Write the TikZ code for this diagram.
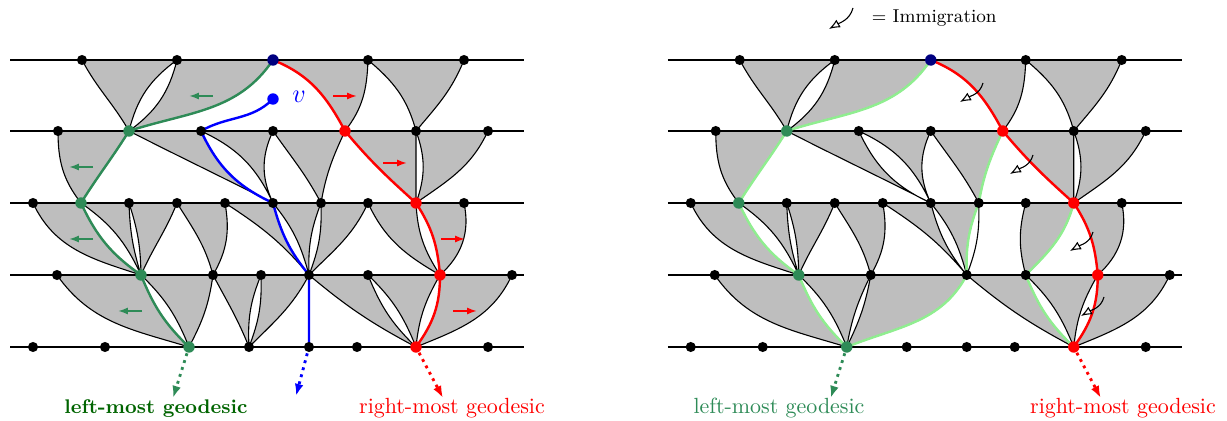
\documentclass[tikz,border=0pt]{standalone}
\usepackage{tikz}
\usetikzlibrary{arrows.meta}
\definecolor{geogreen}{RGB}{46,139,87}
\definecolor{labgreen}{RGB}{0,100,0}
\definecolor{cellgray}{RGB}{190,190,190}
\definecolor{immgreen}{RGB}{144,238,144}
\definecolor{topblue}{RGB}{0,0,128}
\tikzstyle{pt}    = [circle, fill=black, inner sep=0pt, minimum size=4.6pt]
\tikzstyle{gpt}   = [pt, fill=geogreen, minimum size=5.2pt]
\tikzstyle{rpt}   = [pt, fill=red, minimum size=5.2pt]
\tikzstyle{edge}  = [line width=0.5pt]
\tikzstyle{geo}   = [line width=1.1pt]
\tikzstyle{drift} = [line width=0.8pt, -{Latex[length=4.5pt,width=3.2pt]}]
\tikzstyle{tail}  = [line width=1.3pt, dotted, shorten <=3pt, -{Latex[length=5.5pt,width=4pt]}]
\tikzstyle{imm}   = [line width=0.5pt, -{Latex[open,length=5pt,width=4pt]}]

% the five generations
\newcommand{\setpoints}{%
  \foreach \x [count=\i] in {82,177,273,368,464}                 \coordinate (a\i) at (\x,-60);
  \foreach \x [count=\i] in {58,129,201,273,345,416,488}         \coordinate (b\i) at (\x,-131);
  \foreach \x [count=\i] in {33,81,129,177,225,273,321,368,416,464} \coordinate (c\i) at (\x,-203);
  \foreach \x [count=\i] in {57,141,213,261,309,368,440,512}     \coordinate (d\i) at (\x,-275);
  \foreach \x [count=\i] in {33,105,189,249,309,357,416,488}     \coordinate (e\i) at (\x,-347);
  \coordinate (gtip) at (173,-398);
  \coordinate (rtip) at (443,-398);
}
% cells p/q/child/out/in (p side)/out/in (q side)
\newcommand{\sharedtris}{a1/a2/b2/-62/120/-144/76, a2/a3/b2/-104/36/-124/18,
  a3/a4/b5/-22/118/-92/52, a4/a5/b6/-40/105/-112/50,
  b1/b2/c2/-90/128/-122/58, b2/b3/c6/-27/153/-65/155, b3/b4/c6/-25/115/-115/115,
  b4/b5/c7/-55/118/-115/80, b5/b6/c9/-50/138/-90/90, b6/b7/c9/-70/70/-115/35,
  c1/c2/d2/-65/162/-65/145, c2/c3/d2/-35/115/-88/107, c3/c4/d2/-72/91/-112/66,
  c4/c5/d3/-58/105/-80/60, c5/c6/d5/-33/130/-75/129, c6/c7/d5/-51/105/-111/92,
  c9/c10/d7/-57/95/-78/42,
  d1/d2/e3/-55/163/-68/136, d5/d6/e7/-40/152/-68/136, d6/d7/e7/-44/112/-120/84,
  d7/d8/e7/-90/54/-115/22}
\newcommand{\lefttris}{c7/c8/d5/-88/69/-115/45, c8/c9/d7/-65/150/-87/123,
  d2/d3/e3/-44/112/-98/62, d3/d4/e4/-62/112/-112/93, d4/d5/e4/-88/69/-118/45}
\newcommand{\righttris}{c8/c9/d6/-105/105/-105/45,
  d2/d3/e3/-44/112/-116/80, d3/d5/e3/-100/64/-118/22}

\begin{document}
\begin{tikzpicture}[x=0.016cm, y=0.016cm]
\useasboundingbox (0,0) rectangle (1227,-421);

%%% left picture: geodesics
\setpoints
\coordinate (vv) at (273,-99);
\foreach \p/\q/\c/\oa/\ia/\ob/\ib in \sharedtris {
  \fill[cellgray] (\p) -- (\q) to[out=\ob,in=\ib] (\c) to[out=\ia,in=\oa] (\p) -- cycle;
  \draw[edge] (\p) to[out=\oa,in=\ia] (\c) (\q) to[out=\ob,in=\ib] (\c);
}
\foreach \p/\q/\c/\oa/\ia/\ob/\ib in \lefttris {
  \fill[cellgray] (\p) -- (\q) to[out=\ob,in=\ib] (\c) to[out=\ia,in=\oa] (\p) -- cycle;
  \draw[edge] (\p) to[out=\oa,in=\ia] (\c) (\q) to[out=\ob,in=\ib] (\c);
}
\foreach \y in {60,131,203,275,347} \draw[edge] (10,-\y) -- (524,-\y);

\draw[geo, geogreen] (a3) to[out=-124,in=18] (b2) to[out=-122,in=58] (c2)
  to[out=-65,in=145] (d2) to[out=-68,in=136] (e3);
\draw[geo, red] (a3) to[out=-22,in=118] (b5) to[out=-50,in=138] (c9)
  to[out=-57,in=95] (d7) to[out=-90,in=54] (e7);
\draw[geo, blue] (vv) to[out=-135,in=30] (b3) to[out=-65,in=155] (c6)
  to[out=-75,in=129] (d5) -- (e5);
\draw[tail, geogreen] (e3) -- (gtip);
\draw[tail, red] (e7) -- (rtip);
\coordinate (btip) at (296,-396);
\draw[tail, blue] (e5) -- (btip);

% drift of the cells
\foreach \x/\y in {213/96, 93/167, 93/239, 142/311} \draw[drift, geogreen] (\x,-\y) -- ++(-24,0);
\foreach \x/\y in {333/96, 383/163, 441/239, 453/311} \draw[drift, red] (\x,-\y) -- ++(24,0);

\foreach \p in {a1,a2,a4,a5,b1,b3,b4,b6,b7,c1,c3,c4,c5,c6,c7,c8,c10,
                d1,d3,d4,d5,d6,d8,e1,e2,e4,e5,e6,e8} \node[pt] (p\p) at (\p) {};
\foreach \p in {b2,c2,d2,e3} \node[gpt] (p\p) at (\p) {};
\foreach \p in {b5,c9,d7,e7} \node[rpt] (p\p) at (\p) {};
\node[pt, fill=topblue, minimum size=5.2pt] (pa3) at (a3) {};
\node[pt, fill=blue, minimum size=5.2pt] (pv) at (vv) {};
\node[text=blue, font=\large] (vlab) at (299,-97) {$v$};

\node[anchor=base, text=labgreen, font=\small\bfseries] (lmg) at (156,-414) {left-most geodesic};
\node[anchor=base, text=red] (rmg) at (452,-414) {right-most geodesic};

%%% right picture: immigration
\begin{scope}[xshift=10.528cm, name prefix=r-]
\setpoints
\foreach \p/\q/\c/\oa/\ia/\ob/\ib in \sharedtris {
  \fill[cellgray] (\p) -- (\q) to[out=\ob,in=\ib] (\c) to[out=\ia,in=\oa] (\p) -- cycle;
  \draw[edge] (\p) to[out=\oa,in=\ia] (\c) (\q) to[out=\ob,in=\ib] (\c);
}
\foreach \p/\q/\c/\oa/\ia/\ob/\ib in \righttris {
  \fill[cellgray] (\p) -- (\q) to[out=\ob,in=\ib] (\c) to[out=\ia,in=\oa] (\p) -- cycle;
  \draw[edge] (\p) to[out=\oa,in=\ia] (\c) (\q) to[out=\ob,in=\ib] (\c);
}
\draw[edge] (c7) to[out=-88,in=69] (d5);
\foreach \y in {60,131,203,275,347} \draw[edge] (10,-\y) -- (524,-\y);

\draw[geo, immgreen] (a3) to[out=-124,in=18] (b2) to[out=-122,in=58] (c2)
  to[out=-65,in=145] (d2) to[out=-68,in=136] (e3);
\draw[geo, immgreen] (b5) to[out=-115,in=80] (c7) to[out=-111,in=92] (d5)
  to[out=-118,in=22] (e3);
\draw[geo, immgreen] (c9) to[out=-105,in=45] (d6) to[out=-68,in=136] (e7);
\draw[geo, red] (a3) to[out=-22,in=118] (b5) to[out=-50,in=138] (c9)
  to[out=-57,in=95] (d7) to[out=-90,in=54] (e7);
\draw[tail, geogreen] (e3) -- (gtip);
\draw[tail, red] (e7) -- (rtip);

\foreach \p in {a1,a2,a4,a5,b1,b3,b4,b6,b7,c1,c3,c4,c5,c6,c7,c8,c10,
                d1,d3,d5,d6,d8,e1,e2,e4,e5,e6,e8} \node[pt] (p\p) at (\p) {};
\foreach \p in {b2,c2,d2,e3} \node[gpt] (p\p) at (\p) {};
\foreach \p in {b5,c9,d7,e7} \node[rpt] (p\p) at (\p) {};
\node[pt, fill=topblue, minimum size=5.2pt] (pa3) at (a3) {};
\end{scope}

% immigration across the right-most geodesic
\foreach \x/\y in {983/83, 1033/155, 1093/232, 1104/297}
  \draw[imm] (\x,-\y) to[out=-105,in=30] ++(-23,-19);
\draw[imm] (853,-8) to[out=-105,in=30] (829,-29);
\node[anchor=base west, font=\fontsize{8.5}{10}\selectfont] (legend) at (864,-23) {$=$ Immigration};

\node[anchor=base, text=geogreen] (lmg2) at (779,-414) {left-most geodesic};
\node[anchor=base, text=red] (rmg2) at (1123,-414) {right-most geodesic};

\end{tikzpicture}
\end{document}
